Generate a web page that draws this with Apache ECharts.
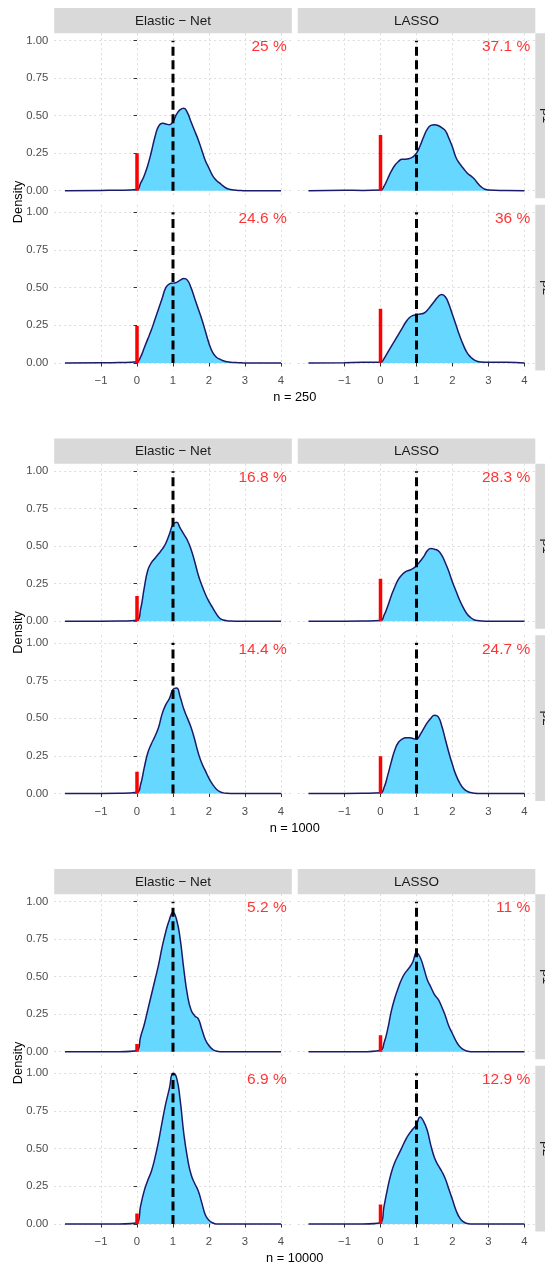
<!DOCTYPE html>
<html><head><meta charset="utf-8">
<script src="https://cdn.jsdelivr.net/npm/echarts@6/dist/echarts.min.js"></script>
<style>html,body{margin:0;padding:0;background:#fff}#c{width:545px;height:1264px}</style>
</head><body><div id="c"></div>
<script>
// ---------------- data ----------------
const methods = ['Elastic \u2212 Net', 'LASSO'];
const rowLabels = ['\u03b21', '\u03b22'];
const sampleSizes = ['n = 250', 'n = 1000', 'n = 10000'];
const xTicks = [-1, 0, 1, 2, 3, 4];
const yTicks = [0, 0.25, 0.5, 0.75, 1];
const trueValue = 1;

// x positions where the density curves were read
const xGrid = [-2, -1, -0.5, 0, 0.1, 0.2, 0.3, 0.4, 0.5, 0.6, 0.7, 0.8, 0.9, 1.0, 1.1, 1.2, 1.3, 1.4, 1.5, 1.6, 1.7, 1.8, 1.9, 2.0, 2.1, 2.2, 2.3, 2.4, 2.5, 2.6, 2.7, 2.8, 2.9, 3.0, 3.5, 4];

// % of estimates equal to zero: [row1 EN, row1 LASSO, row2 EN, row2 LASSO]
const pct250 = [25, 37.1, 24.6, 36];
const pct1000 = [16.8, 28.3, 14.4, 24.7];
const pct10000 = [5.2, 11, 6.9, 12.9];

// densities (n = 250)
const en250a    = [0, 0.002, 0.003, 0.008, 0.05, 0.1, 0.17, 0.26, 0.36, 0.43, 0.45, 0.445, 0.44, 0.46, 0.51, 0.54, 0.55, 0.52, 0.46, 0.40, 0.34, 0.27, 0.2, 0.15, 0.1, 0.07, 0.05, 0.03, 0.015, 0.008, 0.004, 0.002, 0.001, 0, 0, 0];
const lasso250a = [0, 0.003, 0.002, 0.004, 0.03, 0.08, 0.13, 0.17, 0.195, 0.21, 0.21, 0.215, 0.225, 0.25, 0.3, 0.36, 0.41, 0.435, 0.44, 0.435, 0.42, 0.4, 0.35, 0.29, 0.22, 0.18, 0.15, 0.12, 0.1, 0.08, 0.05, 0.025, 0.01, 0.004, 0.001, 0];
const en250b    = [0, 0.001, 0.003, 0.008, 0.04, 0.1, 0.16, 0.22, 0.29, 0.36, 0.43, 0.5, 0.525, 0.53, 0.535, 0.55, 0.56, 0.55, 0.5, 0.43, 0.36, 0.29, 0.21, 0.13, 0.07, 0.04, 0.025, 0.015, 0.008, 0.005, 0.003, 0.002, 0.001, 0, 0, 0];
const lasso250b = [0, 0.002, 0.004, 0.004, 0.03, 0.07, 0.11, 0.15, 0.19, 0.23, 0.27, 0.3, 0.315, 0.32, 0.325, 0.33, 0.35, 0.38, 0.41, 0.44, 0.455, 0.44, 0.39, 0.32, 0.25, 0.18, 0.12, 0.07, 0.04, 0.02, 0.01, 0.006, 0.005, 0.005, 0.004, 0];
// densities (n = 1000)
const en1000a    = [0, 0, 0.001, 0.008, 0.08, 0.22, 0.34, 0.39, 0.42, 0.45, 0.48, 0.52, 0.58, 0.645, 0.66, 0.62, 0.58, 0.54, 0.48, 0.4, 0.31, 0.24, 0.18, 0.13, 0.09, 0.05, 0.02, 0.008, 0.003, 0.001, 0, 0, 0, 0, 0, 0];
const lasso1000a = [0, 0, 0.001, 0.004, 0.04, 0.1, 0.17, 0.23, 0.28, 0.31, 0.33, 0.34, 0.35, 0.37, 0.4, 0.43, 0.47, 0.485, 0.48, 0.47, 0.44, 0.39, 0.33, 0.26, 0.2, 0.14, 0.09, 0.05, 0.025, 0.01, 0.004, 0.002, 0, 0, 0, 0];
const en1000b    = [0, 0, 0.001, 0.008, 0.06, 0.17, 0.27, 0.33, 0.38, 0.44, 0.53, 0.59, 0.63, 0.69, 0.7, 0.64, 0.56, 0.5, 0.44, 0.36, 0.27, 0.2, 0.15, 0.1, 0.06, 0.03, 0.012, 0.004, 0.001, 0, 0, 0, 0, 0, 0, 0];
const lasso1000b = [0, 0, 0.001, 0.004, 0.04, 0.12, 0.21, 0.29, 0.34, 0.36, 0.37, 0.37, 0.365, 0.36, 0.39, 0.43, 0.47, 0.5, 0.52, 0.51, 0.45, 0.36, 0.27, 0.19, 0.12, 0.07, 0.035, 0.015, 0.006, 0.002, 0, 0, 0, 0, 0, 0];
// densities (n = 10000)
const en10000a    = [0, 0, 0, 0.01, 0.1, 0.18, 0.28, 0.38, 0.48, 0.58, 0.7, 0.8, 0.88, 0.93, 0.88, 0.75, 0.55, 0.38, 0.28, 0.24, 0.22, 0.15, 0.08, 0.04, 0.015, 0.005, 0, 0, 0, 0, 0, 0, 0, 0, 0, 0];
const lasso10000a = [0, 0, 0, 0.01, 0.06, 0.15, 0.27, 0.36, 0.43, 0.49, 0.53, 0.56, 0.6, 0.66, 0.63, 0.56, 0.48, 0.43, 0.38, 0.35, 0.3, 0.24, 0.17, 0.12, 0.07, 0.035, 0.015, 0.005, 0, 0, 0, 0, 0, 0, 0, 0];
const en10000b    = [0, 0, 0, 0.01, 0.12, 0.22, 0.29, 0.35, 0.44, 0.55, 0.68, 0.8, 0.9, 1.0, 0.97, 0.82, 0.6, 0.44, 0.33, 0.27, 0.22, 0.14, 0.06, 0.025, 0.008, 0, 0, 0, 0, 0, 0, 0, 0, 0, 0, 0];
const lasso10000b = [0, 0, 0, 0.01, 0.12, 0.24, 0.34, 0.41, 0.46, 0.51, 0.56, 0.6, 0.63, 0.66, 0.71, 0.68, 0.62, 0.52, 0.44, 0.39, 0.35, 0.3, 0.23, 0.16, 0.09, 0.04, 0.015, 0.003, 0, 0, 0, 0, 0, 0, 0, 0];

// ---------------- layout ----------------
const FONT = "'Liberation Sans', Arial, Helvetica, sans-serif";
const BLOCK_DY = 430.5;
const COL_LEFT = [54.2, 297.7], COL_W = 237.6;
const ROW_TOP = [33.2, 204.8], ROW_H = [165, 165.7];
const STRIP_TOP = 8, STRIP_H = 25.2;
const RSTRIP_X = 535.3, RSTRIP_W = 22;
const LABEL_X = 4.16, LABEL_Y = 0.957;

const blockDens = [
  [en250a, lasso250a, en250b, lasso250b],
  [en1000a, lasso1000a, en1000b, lasso1000b],
  [en10000a, lasso10000a, en10000b, lasso10000b]
];
const blockPct = [pct250, pct1000, pct10000];

const grids = [], xAxes = [], yAxes = [], series = [], graphics = [];
const fmtX = v => (v < 0 ? '\u2212' + Math.abs(v) : String(v));

for (let b = 0; b < 3; b++) {
  const oy = b * BLOCK_DY;
  for (let r = 0; r < 2; r++) {
    for (let c = 0; c < 2; c++) {
      const gi = grids.length;
      const k = r * 2 + c;
      grids.push({ left: COL_LEFT[c], top: ROW_TOP[r] + oy, width: COL_W, height: ROW_H[r] });
      const bottom = r === 1, leftCol = c === 0;
      xAxes.push({
        gridIndex: gi, type: 'value', min: -2.3, max: 4.3,
        axisLine: { show: false },
        axisTick: { show: bottom, customValues: xTicks, length: 3.5, lineStyle: { color: '#333333', width: 1 } },
        axisLabel: { show: bottom, customValues: xTicks, formatter: fmtX, color: '#4D4D4D', fontSize: 11.3, fontFamily: FONT, margin: 5 },
        splitLine: { show: true, lineStyle: { color: '#DCDCDC', width: 1, type: [2, 3] } }
      });
      yAxes.push({
        gridIndex: gi, type: 'value', min: -0.05, max: 1.05,
        axisLine: { show: false },
        axisTick: { show: leftCol, customValues: yTicks, length: 3.5, lineStyle: { color: '#333333', width: 1 } },
        axisLabel: { show: leftCol, customValues: yTicks, formatter: v => v.toFixed(2), color: '#4D4D4D', fontSize: 11.3, fontFamily: FONT, margin: 6 },
        splitLine: { show: true, lineStyle: { color: '#DCDCDC', width: 1, type: [2, 3] } }
      });
      const ys = blockDens[b][k];
      series.push({
        type: 'line', xAxisIndex: gi, yAxisIndex: gi, silent: true,
        data: xGrid.map((x, i) => [x, ys[i]]),
        smooth: 0.5, symbol: 'none',
        lineStyle: { color: '#1B1B6B', width: 1.5 },
        areaStyle: { color: '#66D8FF', opacity: 1 },
        z: 2
      });
      const p = blockPct[b][k];
      series.push({
        type: 'line', xAxisIndex: gi, yAxisIndex: gi, silent: true,
        data: [[0, 0], [0, p / 100]], symbol: 'none',
        lineStyle: { color: '#FF0000', width: 3.5, cap: 'butt' }, z: 3
      });
      series.push({
        type: 'line', xAxisIndex: gi, yAxisIndex: gi, silent: true,
        data: [[trueValue, 0], [trueValue, 1]], symbol: 'none',
        lineStyle: { color: '#000000', width: 3, type: [9, 4.5], cap: 'butt' }, z: 4
      });
      series.push({
        type: 'scatter', xAxisIndex: gi, yAxisIndex: gi, silent: true,
        data: [[LABEL_X, LABEL_Y]], symbolSize: 0,
        label: { show: true, position: 'left', distance: 0, formatter: p + ' %', color: '#FF0000', fontSize: 15.5, fontFamily: FONT },
        z: 5
      });
    }
  }
  // column strips
  for (let c = 0; c < 2; c++) {
    graphics.push({ type: 'rect', shape: { x: COL_LEFT[c], y: STRIP_TOP + oy, width: COL_W, height: STRIP_H }, style: { fill: '#D9D9D9' }, silent: true });
    graphics.push({ type: 'text', x: COL_LEFT[c] + COL_W / 2, y: STRIP_TOP + oy + STRIP_H / 2 + 0.5,
      style: { text: methods[c], fill: '#1A1A1A', fontSize: 13.5, fontFamily: FONT, align: 'center', verticalAlign: 'middle' }, silent: true });
  }
  // row strips (right side, partly cut)
  for (let r = 0; r < 2; r++) {
    graphics.push({ type: 'rect', shape: { x: RSTRIP_X, y: ROW_TOP[r] + oy, width: RSTRIP_W, height: ROW_H[r] }, style: { fill: '#D9D9D9' }, silent: true });
    graphics.push({ type: 'text', x: RSTRIP_X + RSTRIP_W / 2, y: ROW_TOP[r] + oy + ROW_H[r] / 2, rotation: -Math.PI / 2,
      style: { text: rowLabels[r], fill: '#1A1A1A', fontSize: 13.5, fontFamily: FONT, align: 'center', verticalAlign: 'middle' }, silent: true });
  }
  // axis titles
  graphics.push({ type: 'text', x: 18, y: (ROW_TOP[0] + ROW_TOP[1] + ROW_H[1]) / 2 + oy, rotation: Math.PI / 2,
    style: { text: 'Density', fill: '#000000', fontSize: 12.8, fontFamily: FONT, align: 'center', verticalAlign: 'middle' }, silent: true });
  graphics.push({ type: 'text', x: (COL_LEFT[0] + RSTRIP_X) / 2, y: 397.5 + oy,
    style: { text: sampleSizes[b], fill: '#000000', fontSize: 12.8, fontFamily: FONT, align: 'center', verticalAlign: 'middle' }, silent: true });
}

const chart = echarts.init(document.getElementById('c'), null, { renderer: 'canvas' });
chart.setOption({
  animation: false,
  backgroundColor: '#FFFFFF',
  grid: grids, xAxis: xAxes, yAxis: yAxes, series: series,
  graphic: { elements: graphics }
});
</script></body></html>
